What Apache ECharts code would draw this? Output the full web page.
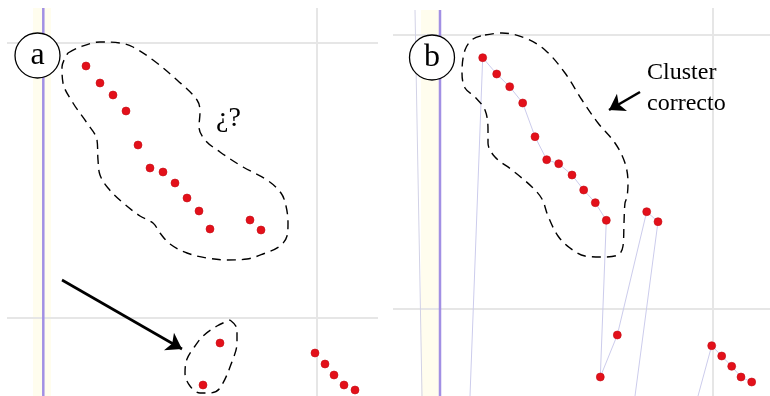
<!DOCTYPE html>
<html>
<head>
<meta charset="utf-8">
<script src="https://cdn.jsdelivr.net/npm/echarts@6/dist/echarts.min.js"></script>
<style>
html,body{margin:0;padding:0;background:#fff;}
#chart{width:770px;height:396px;}
</style>
</head>
<body>
<div id="chart"></div>
<script>
// ---- Data (panel-local coordinates, each panel spans 0..385 x 0..396) ----
// Panel a: red points
const panelAPoints = [[86,66],[100,83],[113,95],[126,111],[138,145],[150,168],[163,172],[175,183],[187,198],[199,211],[210,229],[250,220],[261,230],[220,343],[203,385],[315,353],[325,364],[334,375],[344,385],[355,390]];
// Panel b: red points
const panelBPoints = [[97.7,57.7],[111.7,74],[124.7,86.7],[137.7,103],[150,136.7],[161.7,159.7],[173.7,163.7],[187,175],[198.7,190],[210.3,202.7],[221.3,220.3],[261.7,211.7],[273,221.7],[232.3,335],[215.3,377],[326.7,345.7],[336.7,356],[346.7,366.3],[356,377],[366.7,382]];
// Panel b: thin trajectory lines
const trackMain = [[85,396],[97.7,57.7],[111.7,74],[124.7,86.7],[137.7,103],[150,136.7],[161.7,159.7],[173.7,163.7],[187,175],[198.7,190],[210.3,202.7],[221.3,220.3],[215.3,377],[232.3,335],[261.7,211.7],[273,221.7],[250,396]];
const trackRight = [[313,396],[326.7,345.7],[336.7,356],[346.7,366.3],[356,377],[366.7,382]];
const trackLeft = [[30,10],[37,396]];
// Reference lines of the underlying screenshots
const gridA_h1 = [[7,43],[378,43]];
const gridA_h2 = [[7,318],[378,318]];
const gridA_v = [[317,8],[317,396]];
const purpleA = [[43.3,8],[43.3,396]];
const yellowA = [[42,8],[42,396]];
const gridB_h1 = [[8,35],[385,35]];
const gridB_h2 = [[8,309],[385,309]];
const gridB_v = [[328,8],[328,396]];
const purpleB = [[55,10],[55,396]];
const yellowB = [[45,10],[45,396]];
// Dashed outlines
const outlineA = [[68,53],[80,47],[100,42],[120,43],[133,47],[153,60],[177,80],[197,100],[200,112],[199,127],[205,140],[220,152],[243,167],[267,180],[281,193],[286,206],[288,223],[287,236],[280,246],[263,254],[247,259],[227,260],[207,258],[187,253],[170,244],[160,233],[153,223],[140,216],[122,202],[108,188],[100,175],[98,160],[97,140],[87,123],[73,103],[63,83],[62,67],[68,53]];
const outlineASmall = [[230,320],[237,329],[237,343],[233,359],[220,388],[210,393],[200,393],[190,386],[185,373],[187,359],[195,346],[203,336],[217,326],[230,320]];
const outlineB = [[100,35],[117,33],[140,38],[160,50],[180,73],[197,100],[213,123],[230,143],[240,163],[243,183],[242,197],[240,203],[239,223],[238,246],[233,255],[217,257],[200,256],[185,248],[173,236],[163,216],[157,199],[147,187],[127,170],[110,157],[103,143],[103,130],[100,110],[90,97],[80,88],[77,73],[80,50],[88,39],[100,35]];
// Arrows
const arrowA = [[62,280],[182,349]];
const arrowB = [[255,92],[224,110]];
// Labels
const panelLabels = [{name:'a', value:[37.5,55.5]}];
const panelLabelsB = [{name:'b', value:[47,57.5]}];
const questionLabel = [{name:'¿?', value:[228.5,119]}];
const clusterLabel = [{name:'Cluster\ncorrecto', value:[262,88]}];

const chart = echarts.init(document.getElementById('chart'), null, {renderer:'canvas'});
const axisX = i => ({gridIndex:i, type:'value', min:0, max:385, show:false});
const axisY = i => ({gridIndex:i, type:'value', min:0, max:396, inverse:true, show:false});
function lineS(i, data, color, width, z, extra) {
  return Object.assign({type:'line', xAxisIndex:i, yAxisIndex:i, data:data, symbol:'none', silent:true,
    lineStyle:{color:color, width:width}, z:z, animation:false}, extra||{});
}
function dashed(i, data) {
  return lineS(i, data, '#111', 1.4, 8, {smooth:0.35, lineStyle:{color:'#000', width:1.4, type:[9,6]}});
}
function dots(i, data) {
  return {type:'scatter', xAxisIndex:i, yAxisIndex:i, data:data, symbol:'circle', symbolSize:8,
    itemStyle:{color:'#e3101a', opacity:1, borderColor:'#c40d16', borderWidth:0.6}, z:10, silent:true, animation:false};
}
function circleLabel(i, data) {
  return {type:'scatter', xAxisIndex:i, yAxisIndex:i, data:data, symbol:'circle', symbolSize:45,
    itemStyle:{color:'#fff', opacity:1, borderColor:'#000', borderWidth:1.3}, z:12, silent:true, animation:false,
    label:{show:true, position:'inside', formatter:'{b}', fontFamily:'Liberation Serif', fontSize:32, color:'#000', textBorderWidth:0, opacity:1}};
}
function textLabel(i, data, fs, pos) {
  return {type:'scatter', xAxisIndex:i, yAxisIndex:i, data:data, symbol:'circle', symbolSize:0.1,
    itemStyle:{color:'#fff', opacity:1}, z:12, silent:true, animation:false,
    label:{show:true, position:pos, distance:0, formatter:'{b}', fontFamily:'Liberation Serif', fontSize:fs, lineHeight:31, color:'#000', opacity:1, textBorderWidth:0, align: pos==='right'?'left':'center'}};
}
function arrow(i, coords) {
  return {type:'lines', coordinateSystem:'cartesian2d', xAxisIndex:i, yAxisIndex:i, z:11, silent:true, animation:false,
    symbol:['none','arrow'], symbolSize:15,
    lineStyle:{color:'#000', width:2.6, opacity:1},
    data:[{coords:coords}]};
}
const option = {
  backgroundColor:'#fff',
  animation:false,
  grid:[{left:0, top:0, width:385, height:396}, {left:385, top:0, width:385, height:396}],
  xAxis:[axisX(0), axisX(1)],
  yAxis:[axisY(0), axisY(1)],
  series:[
    lineS(0, yellowA, '#fffdee', 18, 1),
    lineS(0, gridA_h1, '#e6e6e6', 2, 2),
    lineS(0, gridA_h2, '#e6e6e6', 2, 2),
    lineS(0, gridA_v, '#e6e6e6', 2, 2),
    lineS(0, purpleA, '#a290e4', 2.5, 3),
    lineS(1, yellowB, '#fffdee', 18, 1),
    lineS(1, gridB_h1, '#e6e6e6', 2, 2),
    lineS(1, gridB_h2, '#e6e6e6', 2, 2),
    lineS(1, gridB_v, '#e6e6e6', 2, 2),
    lineS(1, purpleB, '#a290e4', 2.5, 3),
    lineS(1, trackLeft, '#d2d2e6', 1, 4),
    lineS(1, trackMain, '#ccccec', 1, 4),
    lineS(1, trackRight, '#ccccec', 1, 4),
    dashed(0, outlineA),
    dashed(0, outlineASmall),
    dashed(1, outlineB),
    dots(0, panelAPoints),
    dots(1, panelBPoints),
    arrow(0, arrowA),
    arrow(1, arrowB),
    circleLabel(0, panelLabels),
    circleLabel(1, panelLabelsB),
    textLabel(0, questionLabel, 28, 'inside'),
    textLabel(1, clusterLabel, 24, 'right')
  ]
};
chart.setOption(option);
</script>
</body>
</html>
